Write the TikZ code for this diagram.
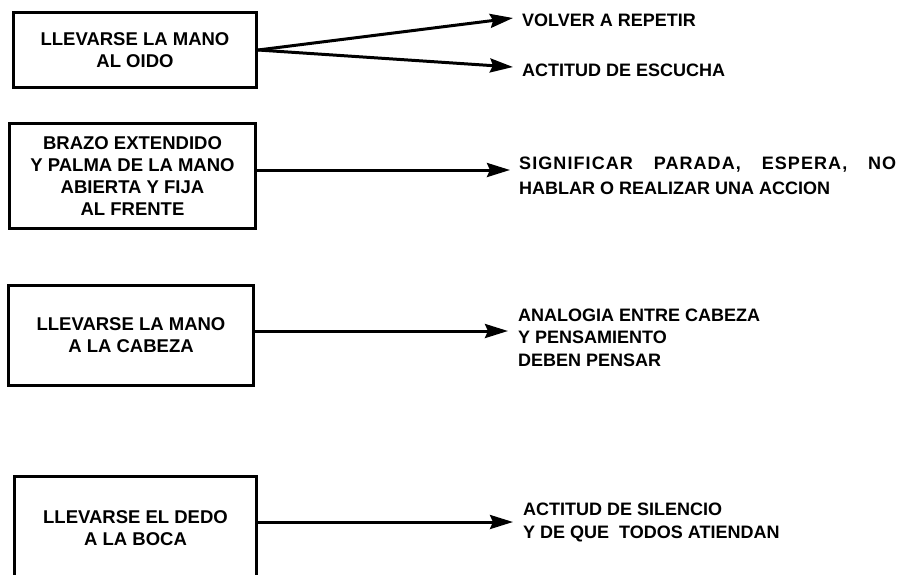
\documentclass[tikz,border=0pt]{standalone}
\usepackage{fontspec}
\setmainfont{Liberation Sans}
\usepackage{tikz}
\usetikzlibrary{arrows.meta}

\tikzset{
  caja/.style={draw, line width=3pt, align=center, inner sep=0pt,
    font=\bfseries\fontsize{18.5}{22}\selectfont},
  texto/.style={anchor=west, align=left, inner sep=0pt,
    font=\bfseries\fontsize{18}{22.5}\selectfont},
  flecha/.style={line width=3pt, -{Stealth[length=23pt,width=14pt,inset=3pt]}}
}

\begin{document}
\begin{tikzpicture}[x=1pt,y=-1pt]
  \useasboundingbox (0,0) rectangle (900,574);

  \node[caja, minimum width=243pt, minimum height=75pt] (oido) at (135,50) {LLEVARSE LA MANO\\AL OIDO};
  \node[caja, minimum width=246pt, minimum height=105pt] (brazo) at (132.5,176) {BRAZO EXTENDIDO\\Y PALMA DE LA MANO\\ABIERTA Y FIJA\\AL FRENTE};
  \node[caja, minimum width=245pt, minimum height=100pt] (cabeza) at (131,335.5) {LLEVARSE LA MANO\\A LA CABEZA};
  \node[caja, minimum width=242pt, minimum height=103pt] (boca) at (135.5,528) {LLEVARSE EL DEDO\\A LA BOCA};

  \coordinate (p1) at (513,18);
  \coordinate (p2) at (513,67);
  \coordinate (p3) at (510,170);
  \coordinate (p4) at (508,331);
  \coordinate (p5) at (513,522);

  \node[texto] (repetir) at (522,20) {VOLVER A REPETIR};
  \node[texto] (escucha) at (522,70) {ACTITUD DE ESCUCHA};
  \node[texto] (parada) at (519,175.5) {\makebox[377pt][s]{\addfontfeature{LetterSpace=6}SIGNIFICAR PARADA, ESPERA, NO}\\[2.5pt]HABLAR O REALIZAR UNA ACCION};
  \node[texto] (analogia) at (518,337.5) {ANALOGIA ENTRE CABEZA\\Y PENSAMIENTO\\DEBEN PENSAR};
  \node[texto] (silencio) at (523,522.5) {ACTITUD DE SILENCIO\\Y DE QUE\ \ TODOS ATIENDAN};

  \draw[flecha] (oido.east) -- (p1);
  \draw[flecha] (oido.east) -- (p2);
  \draw[flecha] (brazo.east |- p3) -- (p3);
  \draw[flecha] (cabeza.east |- p4) -- (p4);
  \draw[flecha] (boca.east |- p5) -- (p5);
\end{tikzpicture}
\end{document}
